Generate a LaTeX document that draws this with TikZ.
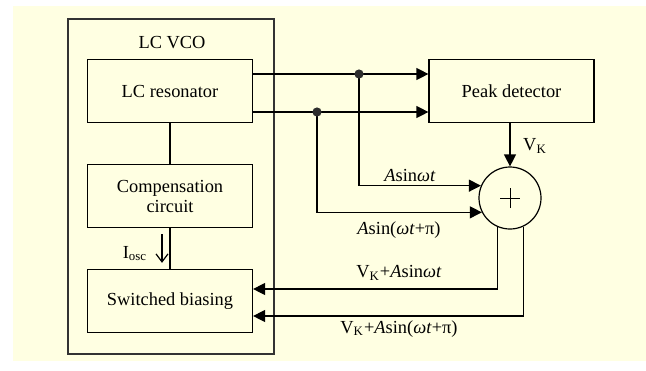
\documentclass[tikz,border=0pt]{standalone}
\usepackage{fontspec}
\setmainfont{Liberation Serif}
\usetikzlibrary{arrows.meta, positioning}
\definecolor{paper}{RGB}{255,255,226}
\definecolor{dotgray}{RGB}{45,45,45}

\begin{document}
\begin{tikzpicture}[
    x=0.5pt, y=-0.5pt,
    every node/.style={font=\fontsize{9.2}{10}\selectfont},
    box/.style={draw, line width=0.6pt, align=center, minimum width=82.5pt, minimum height=31.5pt, inner sep=0pt},
    frame/.style={draw=black!80, line width=0.7pt, minimum width=103pt, minimum height=167.5pt},
    adder/.style={draw, circle, line width=0.6pt, minimum size=31pt, inner sep=0pt},
    dot/.style={circle, fill=dotgray, minimum size=4.6pt, inner sep=0pt},
    wire/.style={line width=0.6pt},
    arrow/.style={wire, -{Triangle[length=6pt, width=6pt]}}
]
\useasboundingbox (0,0) rectangle (646,370);
\fill[paper] (13,6) rectangle (646,361);

\node[frame] (vco) at (171,186.5) {};
\node (title) at (172,43) {LC VCO};
\node[box] (res) at (170,91) {LC resonator};
\node[box] (comp) at (170,196) {Compensation\\circuit};
\node[box] (bias) at (170,301) {Switched biasing};
\node[box] (peak) at (511.5,91) {Peak detector};
\node[adder] (add) at (510,198) {};
\draw[line width=0.5pt] ([xshift=-5pt]add.center) -- ([xshift=5pt]add.center);
\draw[line width=0.5pt] ([yshift=-5pt]add.center) -- ([yshift=5pt]add.center);

\coordinate (tapA) at (359,74);
\coordinate (tapB) at (317,112);

\draw[wire] (res) -- (comp);
\draw[wire] (comp) -- (bias);
\draw[wire, -{Straight Barb[length=4pt, width=6pt]}, shorten <=3pt, shorten >=3pt]
    ([xshift=-4pt]comp.south) -- ([xshift=-4pt]bias.north);
\node (iosc) at (135,254) {I\textsubscript{osc}};

\draw[arrow] (res.east |- tapA) -- (peak.west |- tapA);
\draw[arrow] (res.east |- tapB) -- (peak.west |- tapB);
\draw[arrow] (tapA) |- (add.157);
\draw[arrow] (tapB) |- (add.207);
\draw[arrow] (peak.south -| add) -- (add.north);
\draw[arrow] (add.247) |- (bias.east |- 0,289);
\draw[arrow] (add.295) |- (bias.east |- 0,316);
\node[dot] (dotA) at (tapA) {};
\node[dot] (dotB) at (tapB) {};

\node (vk) at (535,146) {V\textsubscript{K}};
\node (sinA) at (410,175) {\textit{A}sin\textit{ωt}};
\node (sinB) at (399,230) {\textit{A}sin(\textit{ωt}+π)};
\node (fbA) at (399,273) {V\textsubscript{K}+\textit{A}sin\textit{ωt}};
\node (fbB) at (399,329) {V\textsubscript{K}+\textit{A}sin(\textit{ωt}+π)};
\end{tikzpicture}
\end{document}
